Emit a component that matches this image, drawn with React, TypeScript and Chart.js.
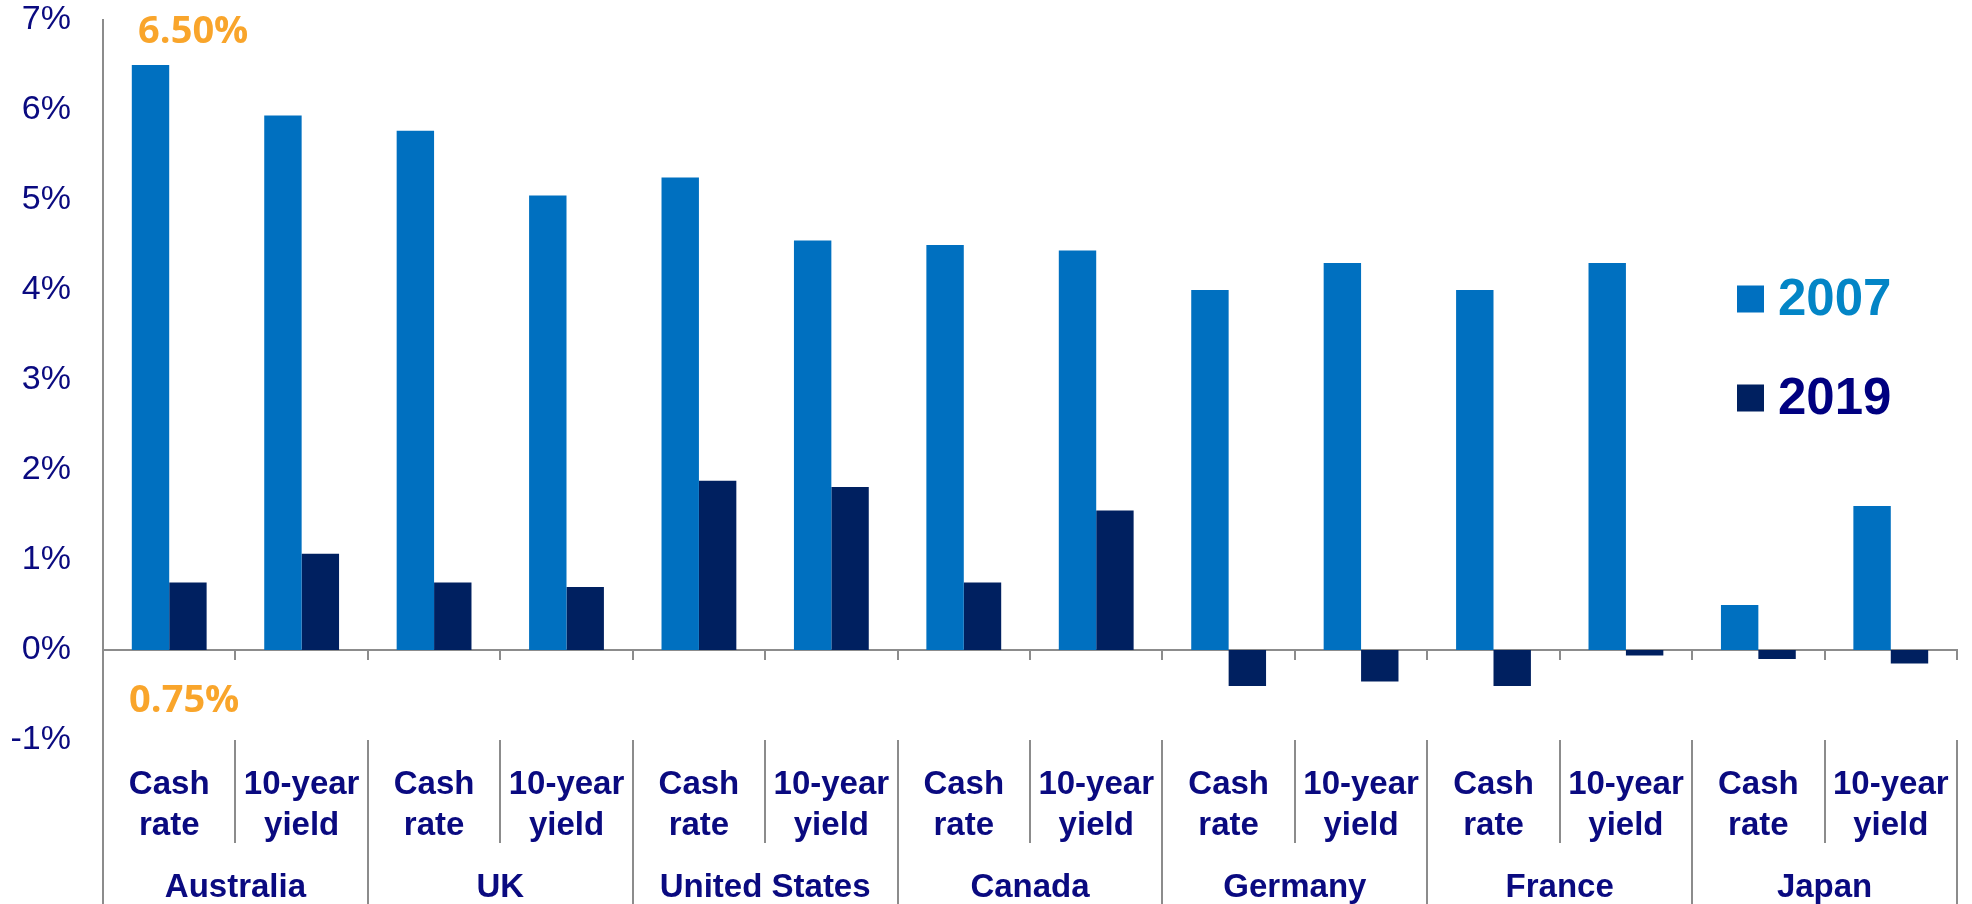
import React, { useEffect, useRef } from "react";
import { Chart, registerables } from "chart.js";

Chart.register(...registerables);

const subLabels: string[][] = [
  ["Cash", "rate"], ["10-year", "yield"],
  ["Cash", "rate"], ["10-year", "yield"],
  ["Cash", "rate"], ["10-year", "yield"],
  ["Cash", "rate"], ["10-year", "yield"],
  ["Cash", "rate"], ["10-year", "yield"],
  ["Cash", "rate"], ["10-year", "yield"],
  ["Cash", "rate"], ["10-year", "yield"],
];
const countries: string[] = ["Australia", "UK", "United States", "Canada", "Germany", "France", "Japan"];
const seriesNames: string[] = ["2007", "2019"];
const values2007: number[] = [6.5, 5.94, 5.77, 5.05, 5.25, 4.55, 4.5, 4.44, 4.0, 4.3, 4.0, 4.3, 0.5, 1.6];
const values2019: number[] = [0.75, 1.07, 0.75, 0.7, 1.88, 1.81, 0.75, 1.55, -0.4, -0.35, -0.4, -0.06, -0.1, -0.15];
const yTicks: number[] = [-1, 0, 1, 2, 3, 4, 5, 6, 7];

const NAVY = "#0a0a80";
const GRAY = "#8c8c8c";
const BAR1 = "#0070c0";
const BAR2 = "#002060";
const ORANGE = "#f9a52b";
const LEGEND_TEXT = ["#0385c6", "#000080"];
const FONT = "'Liberation Sans', Arial, sans-serif";

const overlayPlugin = {
  id: "overlay",
  afterDraw(chart: any) {
    const { ctx, chartArea } = chart;
    const x = chart.scales.x;
    const y = chart.scales.y;
    const n = subLabels.length;
    const step = x.width / n;
    const H = chart.height;
    ctx.save();
    ctx.strokeStyle = GRAY;
    ctx.lineWidth = 2;
    ctx.beginPath();
    ctx.moveTo(x.left, chartArea.bottom);
    ctx.lineTo(x.left, H);
    ctx.stroke();
    for (let i = 1; i <= n; i++) {
      const px = Math.round(x.left + i * step);
      const isGroup = i % 2 === 0;
      ctx.beginPath();
      ctx.moveTo(px, chartArea.bottom);
      ctx.lineTo(px, isGroup ? H : chartArea.bottom + 103);
      ctx.stroke();
    }
    ctx.fillStyle = ORANGE;
    ctx.font = "bold 38px 'Open Sans', sans-serif";
    ctx.textAlign = "center";
    ctx.textBaseline = "middle";
    const bx = x.getPixelForValue(0);
    ctx.fillText(values2007[0].toFixed(2) + "%", bx + 24, y.getPixelForValue(values2007[0]) - 33);
    ctx.fillText(values2019[0].toFixed(2) + "%", bx + 15, y.getPixelForValue(-0.57));
    const ds = chart.data.datasets;
    const lx = chartArea.right - 220;
    ds.forEach((d: any, i: number) => {
      const cy = y.getPixelForValue(3.9 - i * 1.1);
      ctx.fillStyle = d.backgroundColor;
      ctx.fillRect(lx, cy - 13.5, 27, 27);
      ctx.fillStyle = LEGEND_TEXT[i];
      ctx.font = "bold 51px " + FONT;
      ctx.textAlign = "left";
      ctx.fillText(d.label, lx + 41, cy + 2);
    });
    ctx.restore();
  },
};

export default function App() {
  const ref = useRef<HTMLCanvasElement | null>(null);
  useEffect(() => {
    if (!ref.current) return;
    const chart = new Chart(ref.current, {
      type: "bar",
      data: {
        labels: subLabels as any,
        datasets: [
          { label: seriesNames[0], data: values2007, backgroundColor: BAR1, borderWidth: 0 },
          { label: seriesNames[1], data: values2019, backgroundColor: BAR2, borderWidth: 0 },
        ],
      },
      plugins: [overlayPlugin],
      options: {
        animation: false,
        responsive: true,
        maintainAspectRatio: false,
        layout: { padding: { left: 0, right: 15, top: 0, bottom: 0 } },
        plugins: { legend: { display: false }, tooltip: { enabled: false } },
        datasets: { bar: { barPercentage: 1, categoryPercentage: 0.565 } },
        scales: {
          x: {
            type: "category",
            position: "bottom",
            offset: true,
            grid: { display: false, drawTicks: false },
            border: { display: false },
            ticks: {
              autoSkip: false,
              maxRotation: 0,
              minRotation: 0,
              padding: 24,
              color: NAVY,
              font: { family: FONT, size: 33, weight: "bold", lineHeight: 1.25 },
            },
            afterFit: (s: any) => { s.height = 108; s.paddingLeft = 0; s.paddingRight = 0; },
          },
          xc: {
            type: "category",
            position: "bottom",
            weight: 1,
            labels: countries,
            offset: true,
            grid: { display: false, drawTicks: false },
            border: { display: false },
            ticks: {
              autoSkip: false,
              maxRotation: 0,
              minRotation: 0,
              padding: 19,
              color: NAVY,
              font: { family: FONT, size: 33, weight: "bold", lineHeight: 1.25 },
            },
            afterFit: (s: any) => { s.height = 56; s.paddingLeft = 0; s.paddingRight = 0; },
          },
          x2: {
            type: "category",
            position: { y: 0 } as any,
            offset: true,
            grid: { offset: true, drawOnChartArea: false, drawTicks: true, tickLength: 9, color: GRAY, lineWidth: 2 },
            border: { display: true, color: GRAY, width: 2 },
            ticks: { display: false },
          },
          y: {
            type: "linear",
            min: -1,
            max: 7,
            afterBuildTicks: (s: any) => { s.ticks = yTicks.map((v) => ({ value: v })); },
            grid: { display: false, drawTicks: false },
            border: { display: true, color: GRAY, width: 2 },
            ticks: {
              padding: 32,
              color: NAVY,
              font: { family: FONT, size: 34 },
              callback: (v: any) => v + "%",
            },
            afterFit: (s: any) => { s.width = 103; s.paddingTop = 20; s.paddingBottom = 0; },
          },
        },
      },
    });
    return () => chart.destroy();
  }, []);
  return (
    <div style={{ position: "fixed", left: 0, top: 0, width: 1972, height: 904, background: "#fff" }}>
      <canvas ref={ref} />
    </div>
  );
}
